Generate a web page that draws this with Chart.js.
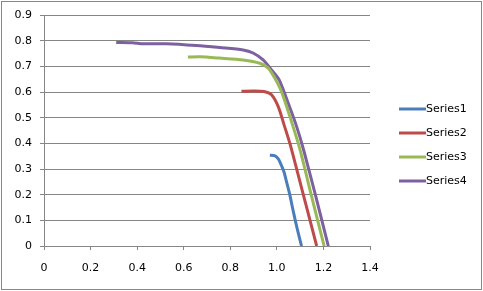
<!DOCTYPE html>
<html>
<head>
<meta charset="utf-8">
<script src="https://cdn.jsdelivr.net/npm/chart.js@4"></script>
<style>
  html, body { margin: 0; padding: 0; background: #fff; }
  #wrap { width: 483px; height: 291px; position: relative; }
</style>
</head>
<body>
<div id="wrap"><canvas id="chart"></canvas></div>
<script>
const seriesNames = ['Series1', 'Series2', 'Series3', 'Series4'];
const seriesColors = ['#4A7EBB', '#BE4B48', '#98B954', '#7D60A0'];

const s1x = [0.97, 0.99, 1.004, 1.012, 1.030, 1.043, 1.056, 1.067, 1.079, 1.092, 1.106];
const s1y = [0.354, 0.352, 0.342, 0.330, 0.290, 0.245, 0.198, 0.150, 0.100, 0.050, 0];

const s2x = [0.848, 0.90, 0.945, 0.977, 1.006, 1.030, 1.058, 1.115, 1.171];
const s2y = [0.603, 0.604, 0.602, 0.589, 0.543, 0.475, 0.393, 0.195, 0];

const s3x = [0.618, 0.669, 0.755, 0.855, 0.927, 0.963, 0.991, 1.020, 1.056, 1.098, 1.150, 1.203];
const s3y = [0.736, 0.737, 0.732, 0.725, 0.712, 0.693, 0.654, 0.601, 0.504, 0.380, 0.190, 0];

const s4x = [0.31, 0.38, 0.425, 0.526, 0.655, 0.755, 0.855, 0.898, 0.941, 0.977, 1.010, 1.049, 1.085, 1.115, 1.168, 1.221];
const s4y = [0.793, 0.792, 0.788, 0.788, 0.781, 0.773, 0.764, 0.752, 0.725, 0.686, 0.647, 0.556, 0.465, 0.374, 0.190, 0];

const xTicks = [0, 0.2, 0.4, 0.6, 0.8, 1, 1.2, 1.4];
const yTicks = [0, 0.1, 0.2, 0.3, 0.4, 0.5, 0.6, 0.7, 0.8, 0.9];

const allX = [s1x, s2x, s3x, s4x];
const allY = [s1y, s2y, s3y, s4y];

const gridColor = '#868686';
const fontFamily = '"DejaVu Sans", sans-serif';

const datasets = seriesNames.map((name, i) => ({
    label: name,
    data: allX[i].map((x, j) => ({ x: x, y: allY[i][j] })),
    borderColor: seriesColors[i],
    backgroundColor: seriesColors[i],
    borderWidth: 3,
    showLine: true,
    pointRadius: 0,
    tension: 0.25
}));

// outer frame + legend on the right
const framePlugin = {
    id: 'framePlugin',
    afterDraw(chart) {
        const ctx = chart.ctx;
        ctx.save();
        ctx.strokeStyle = gridColor;
        ctx.lineWidth = 1;
        ctx.strokeRect(1.5, 1.5, 480, 288);

        ctx.font = '11px ' + fontFamily;
        ctx.textBaseline = 'middle';
        ctx.fillStyle = '#000';
        chart.data.datasets.forEach((ds, i) => {
            const y = 109 + i * 24;
            ctx.strokeStyle = ds.borderColor;
            ctx.lineWidth = 3;
            ctx.beginPath();
            ctx.moveTo(399, y);
            ctx.lineTo(426, y);
            ctx.stroke();
            ctx.fillText(ds.label, 426, y + 0.5);
        });
        ctx.restore();
    }
};

new Chart(document.getElementById('chart'), {
    type: 'scatter',
    data: { datasets: datasets },
    options: {
        responsive: true,
        maintainAspectRatio: false,
        animation: false,
        layout: { padding: { left: 0, right: 113, top: 15, bottom: 0 } },
        plugins: {
            legend: { display: false },
            tooltip: { enabled: false }
        },
        scales: {
            x: {
                type: 'linear',
                min: 0,
                max: 1.4,
                afterFit: (scale) => { scale.height = 45; },
                afterBuildTicks: (scale) => { scale.ticks = xTicks.map(v => ({ value: v })); },
                grid: { drawOnChartArea: false, drawTicks: true, tickLength: 4, color: gridColor },
                border: { color: gridColor },
                ticks: { color: '#000', padding: 12, maxRotation: 0, font: { family: fontFamily, size: 11 } }
            },
            y: {
                type: 'linear',
                min: 0,
                max: 0.9,
                afterFit: (scale) => { scale.width = 44; },
                afterBuildTicks: (scale) => { scale.ticks = yTicks.map(v => ({ value: v })); },
                grid: { color: gridColor, tickLength: 4 },
                border: { color: gridColor },
                ticks: { color: '#000', padding: 8, font: { family: fontFamily, size: 11 } }
            }
        }
    },
    plugins: [framePlugin]
});
</script>
</body>
</html>
